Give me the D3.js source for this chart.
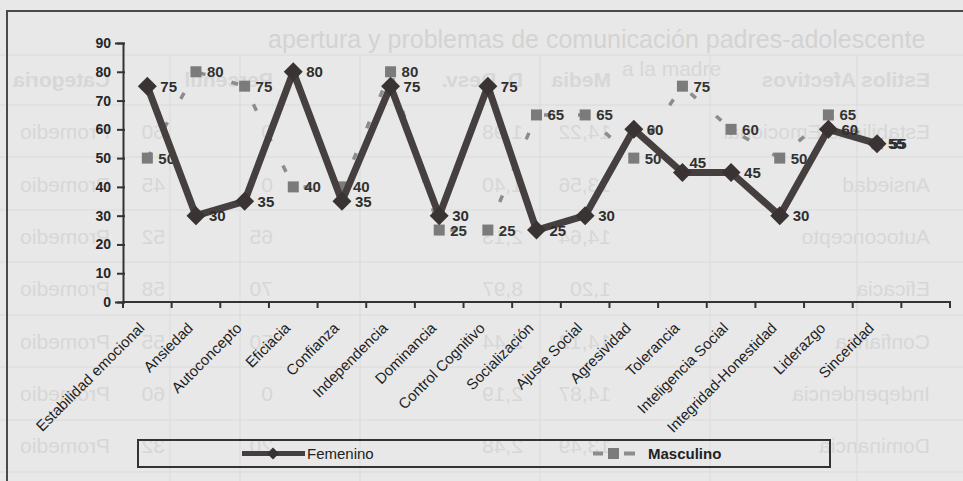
<!DOCTYPE html>
<html>
<head>
<meta charset="utf-8">
<script src="https://cdn.jsdelivr.net/npm/d3@7"></script>
<style>
  body { margin: 0; background: #e8e8e8; }
  svg { display: block; }
</style>
</head>
<body>
<div id="chartArea"></div>
<script>
// chart data
var categorias = ["Estabilidad emocional", "Ansiedad", "Autoconcepto", "Eficiacia", "Confianza",
  "Independencia", "Dominancia", "Control Cognitivo", "Socialización", "Ajuste Social",
  "Agresividad", "Tolerancia", "Inteligencia Social", "Integridad-Honestidad", "Liderazgo", "Sinceridad"]
var femenino = [75, 30, 35, 80, 35, 75, 30, 75, 25, 30, 60, 45, 45, 30, 60, 55]
var masculino = [50, 80, 75, 40, 40, 80, 25, 25, 65, 65, 50, 75, 60, 50, 65, 55]
var yTicks = [0, 10, 20, 30, 40, 50, 60, 70, 80, 90]
var series = ["Femenino", "Masculino"]

// faint page showing through the scan (mirrored table on the back of the sheet)
var fondoFilas = [
  ["Estilos Afectivos", "Media", "D. Desv.", "Percentil", "", "Categoria"],
  ["Estabilidad Emocional", "14,22", "1,98", "0", "60", "Promedio"],
  ["Ansiedad", "13,56", "1,40", "0", "45", "Promedio"],
  ["Autoconcepto", "14,64", "2,13", "65", "52", "Promedio"],
  ["Eficacia", "1,20", "8,97", "70", "58", "Promedio"],
  ["Confianza", "14,12", "2,44", "50", "55", "Promedio"],
  ["Independencia", "14,87", "2,19", "0", "60", "Promedio"],
  ["Dominancia", "13,49", "2,48", "20", "32", "Promedio"]
]
var fondoTitulo = ["apertura y problemas de comunicación padres-adolescente", "a la madre"]

var W = 963, H = 481
var fuente = 'Liberation Sans, Arial, sans-serif'
var svg = d3.select('#chartArea')
  .append('svg')
  .attr('width', W)
  .attr('height', H)

svg.append('rect').attr('width', W).attr('height', H).attr('fill', '#e8e8e8')

// background page
var fondo = svg.append('g').attr('transform', `translate(${W},0) scale(-1,1)`)
var colX = [33, 352, 440, 690, 798, 853]
fondoFilas.forEach((fila, i) => {
  var yb = 87 + i * 52.3
  fila.forEach((t, j) => {
    fondo.append('text')
      .attr('x', colX[j]).attr('y', yb)
      .attr('font-family', fuente)
      .attr('font-size', 21)
      .attr('font-weight', i == 0 ? 'bold' : 'normal')
      .attr('fill', '#d7d7d7')
      .text(t)
  })
})
var lineasH = [55, 105, 157, 210, 262, 315, 367, 420, 472]
lineasH.forEach(y => {
  svg.append('line').attr('x1', 0).attr('x2', W).attr('y1', y).attr('y2', y)
    .attr('stroke', '#dadada').attr('stroke-width', 1.2)
})
var lineasV = [170, 240, 360, 540, 710, 857]
lineasV.forEach(x => {
  svg.append('line').attr('x1', x).attr('x2', x).attr('y1', 55).attr('y2', H)
    .attr('stroke', '#dcdcdc').attr('stroke-width', 1.2)
})
svg.append('text').attr('x', 268).attr('y', 48)
  .attr('font-family', fuente).attr('font-size', 25)
  .attr('fill', '#d3d3d3').text(fondoTitulo[0])
svg.append('text').attr('x', 622).attr('y', 76)
  .attr('font-family', fuente).attr('font-size', 21)
  .attr('fill', '#d7d7d7').text(fondoTitulo[1])

// chart frame
svg.append('path').attr('d', `M7,${H + 5} L7,11 L${W + 5},11`)
  .attr('fill', 'none').attr('stroke', '#4a4a4a').attr('stroke-width', 2)

// scales
var x = d3.scaleBand()
  .domain(categorias.concat(["_"]))
  .range([123, 950])
  .padding(0)
var y = d3.scaleLinear()
  .domain([0, 90])
  .range([302, 43])
var cx = d => x(d) + x.bandwidth() / 2

// y axis
var yAxis = d3.axisLeft(y).tickValues(yTicks).tickSize(8).tickPadding(4)
var gy = svg.append('g')
  .attr('transform', `translate(123,0)`)
  .call(yAxis)
gy.select('.domain').attr('stroke', '#333').attr('stroke-width', 2)
gy.selectAll('.tick line').attr('stroke', '#333').attr('stroke-width', 2).attr('x2', -6).attr('x1', 2)
gy.selectAll('text')
  .attr('font-family', fuente)
  .attr('font-size', 14)
  .attr('font-weight', 'bold')
  .attr('fill', '#262626')

// x axis (ticks between categories)
var gx = svg.append('g').attr('transform', 'translate(0,302)')
gx.append('line').attr('x1', x.range()[0]).attr('x2', x.range()[1])
  .attr('stroke', '#333').attr('stroke-width', 2)
gx.selectAll('.tk')
  .data(x.domain().concat(["__end"]))
  .enter()
  .append('line')
  .attr('x1', (d, i) => x.range()[0] + i * x.step())
  .attr('x2', (d, i) => x.range()[0] + i * x.step())
  .attr('y1', -1).attr('y2', 6)
  .attr('stroke', '#333').attr('stroke-width', 2)
gx.selectAll('.lbl')
  .data(categorias)
  .enter()
  .append('text')
  .attr('transform', d => `translate(${cx(d) - 2},${27}) rotate(-45)`)
  .attr('text-anchor', 'end')
  .attr('font-family', fuente)
  .attr('font-size', 15)
  .attr('fill', '#1e1e1e')
  .text(d => d)

var lineGen = d3.line()
  .x((d, i) => cx(categorias[i]))
  .y(d => y(d))

// Masculino
svg.append('path')
  .datum(masculino)
  .attr('d', lineGen)
  .attr('fill', 'none')
  .attr('stroke', '#8c8c8c')
  .attr('stroke-width', 3.5)
  .attr('stroke-dasharray', '7,27')
svg.selectAll('.sq')
  .data(masculino)
  .enter()
  .append('rect')
  .attr('x', (d, i) => cx(categorias[i]) - 5.5)
  .attr('y', d => y(d) - 5.5)
  .attr('width', 11).attr('height', 11)
  .attr('fill', '#7b7b7b')
svg.selectAll('.lm')
  .data(masculino)
  .enter()
  .append('text')
  .attr('x', (d, i) => cx(categorias[i]) + 11)
  .attr('y', d => y(d) + 5.5)
  .attr('font-family', fuente)
  .attr('font-size', 15)
  .attr('font-weight', 'bold')
  .attr('fill', '#333')
  .text(d => d)

// Femenino
var diamante = 'M0,-9.5L9.5,0L0,9.5L-9.5,0Z'
svg.append('path')
  .datum(femenino)
  .attr('d', lineGen)
  .attr('fill', 'none')
  .attr('stroke', '#463f3f')
  .attr('stroke-width', 7)
  .attr('stroke-linejoin', 'round')
svg.selectAll('.dm')
  .data(femenino)
  .enter()
  .append('path')
  .attr('d', diamante)
  .attr('transform', (d, i) => `translate(${cx(categorias[i])},${y(d)})`)
  .attr('fill', '#3a3333')
// label sits above-right when the line runs flat to the right
var plano = (d, i) => femenino[i + 1] === d
svg.selectAll('.lf')
  .data(femenino)
  .enter()
  .append('text')
  .attr('x', (d, i) => cx(categorias[i]) + (plano(d, i) ? 7 : 13))
  .attr('y', (d, i) => y(d) + (plano(d, i) ? -5 : 5.5))
  .attr('font-family', fuente)
  .attr('font-size', 15)
  .attr('font-weight', 'bold')
  .attr('fill', '#2e2e2e')
  .text(d => d)

// legend
var leg = svg.append('g')
leg.append('rect')
  .attr('x', 138).attr('y', 440).attr('width', 692).attr('height', 27)
  .attr('fill', 'none').attr('stroke', '#333').attr('stroke-width', 2)
leg.append('line').attr('x1', 242).attr('x2', 305).attr('y1', 453.5).attr('y2', 453.5)
  .attr('stroke', '#463f3f').attr('stroke-width', 5)
leg.append('path').attr('d', 'M0,-6L6,0L0,6L-6,0Z').attr('transform', 'translate(273,453.5)')
  .attr('fill', '#3a3333')
leg.append('text').attr('x', 307).attr('y', 459)
  .attr('font-family', 'Liberation Sans Narrow, Arial Narrow, Liberation Sans, sans-serif')
  .attr('font-size', 15).attr('fill', '#222')
  .text(series[0])
leg.append('line').attr('x1', 593).attr('x2', 603).attr('y1', 453.5).attr('y2', 453.5)
  .attr('stroke', '#8c8c8c').attr('stroke-width', 4)
leg.append('line').attr('x1', 624).attr('x2', 635).attr('y1', 453.5).attr('y2', 453.5)
  .attr('stroke', '#8c8c8c').attr('stroke-width', 4)
leg.append('rect').attr('x', 608).attr('y', 448).attr('width', 11).attr('height', 11)
  .attr('fill', '#7b7b7b')
leg.append('text').attr('x', 648).attr('y', 459)
  .attr('font-family', 'Liberation Sans Narrow, Arial Narrow, Liberation Sans, sans-serif')
  .attr('font-size', 15).attr('font-weight', 'bold').attr('fill', '#222')
  .text(series[1])
</script>
</body>
</html>
